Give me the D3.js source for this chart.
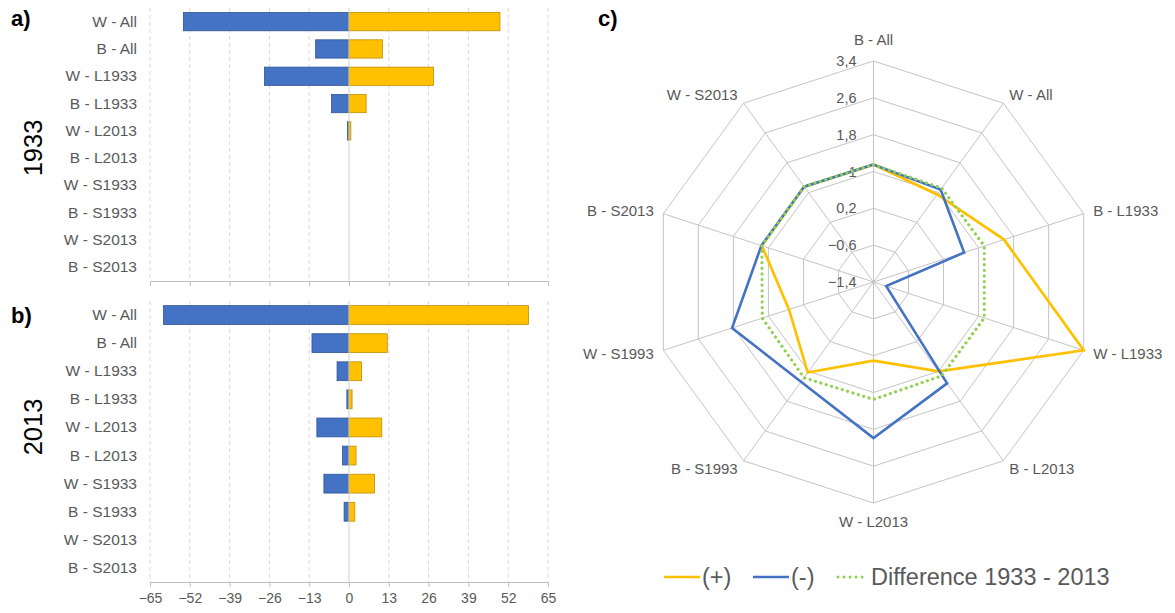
<!DOCTYPE html>
<html>
<head>
<meta charset="utf-8">
<script src="https://cdn.jsdelivr.net/npm/d3@7/dist/d3.min.js"></script>
<style>
  html, body { margin: 0; padding: 0; background: #ffffff; }
  svg { display: block; font-family: "Liberation Sans", Arial, sans-serif; }
  .lbl { fill: #595959; }
</style>
</head>
<body>
<svg id="chart" width="1175" height="613"></svg>
<script>
// ---- Bar panels (a, b) ----
const barCategories = ["W - All", "B - All", "W - L1933", "B - L1933", "W - L2013",
                       "B - L2013", "W - S1933", "B - S1933", "W - S2013", "B - S2013"];
const pos1933 = [49.3, 10.9, 27.6, 5.6, 0.6, 0, 0, 0, 0, 0];
const neg1933 = [-54.1, -10.9, -27.6, -5.7, -0.5, 0, 0, 0, 0, 0];
const pos2013 = [58.6, 12.5, 4.1, 1.0, 10.7, 2.3, 8.3, 1.9, 0, 0];
const neg2013 = [-60.6, -12.1, -3.9, -0.7, -10.5, -2.1, -8.2, -1.6, 0, 0];
const barTicks = [-65, -52, -39, -26, -13, 0, 13, 26, 39, 52, 65];

// ---- Radar panel (c) ----
const radarCategories = ["B - All", "W - All", "B - L1933", "W - L1933", "B - L2013",
                         "W - L2013", "B - S1993", "W - S1993", "B - S2013", "W - S2013"];
const radarPlus  = [1.15, 0.95, 1.58, 3.40, 1.00, 0.31, 1.03, 0.53, 1.15, 1.16];
const radarMinus = [1.15, 1.08, 0.67, -1.11, 1.32, 1.99, 1.28, 1.83, 1.16, 1.16];
const radarDiff  = [1.15, 1.12, 1.13, 1.13, 1.12, 1.15, 1.17, 1.14, 1.15, 1.16];
const radarTicks = [-1.4, -0.6, 0.2, 1, 1.8, 2.6, 3.4];
const legendLabels = ["(+)", "(-)", "Difference 1933 - 2013"];

const BLUE = "#4472C4", BLUE_EDGE = "#2F5597";
const GOLD = "#FFC000", GOLD_EDGE = "#BF9000";
const GREEN = "#92D050";
const TEXT = "#595959";

const svg = d3.select("#chart");
const x = d3.scaleLinear().domain([-65, 65]).range([150, 548]);

function barPanel(top, bottom, pos, neg, showLabels, letter, year, letterY, yearY) {
  const y = d3.scaleBand().domain(barCategories).range([top, bottom])
    .paddingInner(0.33).paddingOuter(0.165);
  const g = svg.append("g");

  // dashed vertical gridlines
  g.selectAll("line.grid").data(barTicks.filter(d => d !== 0)).join("line")
    .attr("class", "grid")
    .attr("x1", d => x(d)).attr("x2", d => x(d))
    .attr("y1", top).attr("y2", bottom)
    .attr("stroke", "#d9d9d9").attr("stroke-width", 1).attr("stroke-dasharray", "4,3");

  const negRows = neg.map((v, i) => ({ v, c: barCategories[i] })).filter(d => d.v !== 0);
  const posRows = pos.map((v, i) => ({ v, c: barCategories[i] })).filter(d => d.v !== 0);

  // negative bars
  g.selectAll("rect.neg").data(negRows).join("rect")
    .attr("class", "neg")
    .attr("x", d => x(d.v)).attr("width", d => x(0) - x(d.v))
    .attr("y", d => y(d.c)).attr("height", y.bandwidth())
    .attr("fill", BLUE).attr("stroke", BLUE_EDGE).attr("stroke-width", 0.8);

  // positive bars
  g.selectAll("rect.pos").data(posRows).join("rect")
    .attr("class", "pos")
    .attr("x", x(0)).attr("width", d => x(d.v) - x(0))
    .attr("y", d => y(d.c)).attr("height", y.bandwidth())
    .attr("fill", GOLD).attr("stroke", GOLD_EDGE).attr("stroke-width", 0.8);

  // zero line
  g.append("line")
    .attr("x1", x(0)).attr("x2", x(0)).attr("y1", top).attr("y2", bottom)
    .attr("stroke", "#d0d0d0").attr("stroke-width", 1);

  // category axis
  const ya = g.append("g").attr("transform", `translate(${x(-65)},0)`)
    .call(d3.axisLeft(y).tickSize(0).tickPadding(13));
  ya.select(".domain").remove();
  ya.selectAll("text").attr("fill", TEXT).style("font-size", "15.5px")
    .style("font-family", "'Liberation Sans', Arial, sans-serif");

  // value axis
  const xa = g.append("g").attr("transform", `translate(0,${bottom})`)
    .call(d3.axisBottom(x).tickValues(barTicks).tickSize(5).tickSizeOuter(0).tickPadding(6)
      .tickFormat(showLabels ? d3.format("d") : () => ""));
  xa.select(".domain").attr("stroke", "#bfbfbf");
  xa.selectAll(".tick line").attr("stroke", "#bfbfbf");
  xa.selectAll("text").attr("fill", TEXT).style("font-size", "14px")
    .style("font-family", "'Liberation Sans', Arial, sans-serif");

  svg.append("text").attr("x", 11).attr("y", letterY)
    .attr("font-size", 22).attr("font-weight", "bold").attr("fill", "#000").text(letter);
  svg.append("text").attr("transform", `translate(42,${yearY}) rotate(-90)`)
    .attr("text-anchor", "middle").attr("font-size", 25.5).attr("fill", "#000").text(year);
}

barPanel(8, 281, pos1933, neg1933, false, "a)", "1933", 26, 148);
barPanel(301, 582, pos2013, neg2013, true, "b)", "2013", 323, 427);

// ---- Radar ----
const cx = 873.5, cy = 282, R = 221;
const r = d3.scaleLinear().domain([-1.4, 3.4]).range([0, R]);
const n = radarCategories.length;
const ang = i => i * 2 * Math.PI / n;
const pt = (i, v) => [cx + r(v) * Math.sin(ang(i)), cy - r(v) * Math.cos(ang(i))];

const rg = svg.append("g");
// rings
radarTicks.slice(1).forEach(t => {
  rg.append("path")
    .attr("d", d3.line()(d3.range(n + 1).map(i => pt(i % n, t))))
    .attr("fill", "none").attr("stroke", "#c4c4c4").attr("stroke-width", 1);
});
// spokes
d3.range(n).forEach(i => {
  const [px, py] = pt(i, 3.4);
  rg.append("line").attr("x1", cx).attr("y1", cy).attr("x2", px).attr("y2", py)
    .attr("stroke", "#c4c4c4").attr("stroke-width", 1);
});
// ring values
const fmt = v => d3.format(".1f")(v).replace(/\.0$/, "").replace(".", ",");
rg.selectAll("text.rt").data(radarTicks).join("text")
  .attr("class", "rt lbl")
  .attr("x", cx - 17).attr("y", d => cy - r(d))
  .attr("dy", "0.35em").attr("text-anchor", "end").attr("font-size", 14.5)
  .text(d => fmt(d));

// category labels
radarCategories.forEach((c, i) => {
  const a = ang(i), s = Math.sin(a), co = Math.cos(a);
  let tx = cx + (R + 10) * s, ty = cy - (R + 10) * co, anchor = "middle";
  if (s > 0.1) anchor = "start";
  else if (s < -0.1) anchor = "end";
  else ty = co > 0 ? cy - R - 21 : cy + R + 19;
  svg.append("text").attr("class", "lbl").attr("x", tx).attr("y", ty)
    .attr("dy", "0.35em").attr("text-anchor", anchor).attr("font-size", 15).text(c);
});

// series
const closed = vals => d3.line()(vals.map((v, i) => pt(i, v)).concat([pt(0, vals[0])]));
svg.append("path").attr("d", closed(radarPlus)).attr("fill", "none")
  .attr("stroke", GOLD).attr("stroke-width", 2.7).attr("stroke-linejoin", "miter");
svg.append("path").attr("d", closed(radarMinus)).attr("fill", "none")
  .attr("stroke", BLUE).attr("stroke-width", 2.6).attr("stroke-linejoin", "miter");
svg.append("path").attr("d", closed(radarDiff)).attr("fill", "none")
  .attr("stroke", GREEN).attr("stroke-width", 3.2)
  .attr("stroke-dasharray", "0.01 5.6").attr("stroke-linecap", "round");

svg.append("text").attr("x", 598).attr("y", 26)
  .attr("font-size", 22).attr("font-weight", "bold").attr("fill", "#000").text("c)");

// legend
const ly = 577;
const lg = svg.append("g");
lg.append("line").attr("x1", 664).attr("x2", 700).attr("y1", ly).attr("y2", ly)
  .attr("stroke", GOLD).attr("stroke-width", 2.7);
lg.append("text").attr("class", "lbl").attr("x", 702).attr("y", ly).attr("dy", "0.35em")
  .attr("font-size", 23.5).text(legendLabels[0]);
lg.append("line").attr("x1", 753).attr("x2", 789).attr("y1", ly).attr("y2", ly)
  .attr("stroke", BLUE).attr("stroke-width", 2.6);
lg.append("text").attr("class", "lbl").attr("x", 791).attr("y", ly).attr("dy", "0.35em")
  .attr("font-size", 23.5).text(legendLabels[1]);
lg.append("line").attr("x1", 838).attr("x2", 866).attr("y1", ly).attr("y2", ly)
  .attr("stroke", GREEN).attr("stroke-width", 3)
  .attr("stroke-dasharray", "0.01 6").attr("stroke-linecap", "round");
lg.append("text").attr("class", "lbl").attr("x", 871).attr("y", ly).attr("dy", "0.35em")
  .attr("font-size", 23.5).text(legendLabels[2]);
</script>
</body>
</html>
